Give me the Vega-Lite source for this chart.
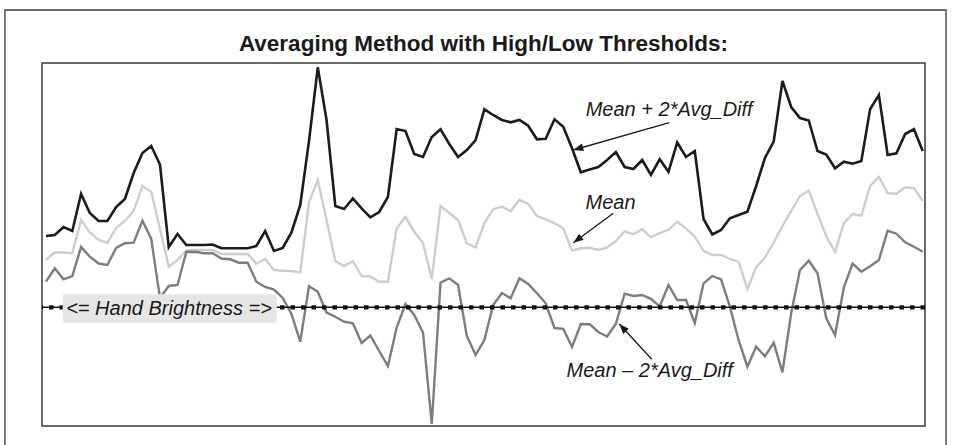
{
  "$schema": "https://vega.github.io/schema/vega-lite/v6.json",
  "width": 883,
  "height": 363,
  "autosize": {"type": "none"},
  "padding": {"left": 42, "top": 63, "right": 29, "bottom": 19},
  "background": "white",
  "config": {"view": {"stroke": "#3a3a3a", "strokeWidth": 1.5}},
  "title": {"text": "Averaging Method with High/Low Thresholds:", "anchor": "middle", "font": "Liberation Sans", "fontSize": 22.5, "fontWeight": "bold", "color": "#1a1a1a", "offset": -64, "baseline": "alphabetic"},
  "datasets": {
    "series": [
      {"i":0,"upper":190,"mean":166,"lower":144.3},
      {"i":1,"upper":191,"mean":173.5,"lower":157.7},
      {"i":2,"upper":199,"mean":173.5,"lower":146.7},
      {"i":3,"upper":195,"mean":172.7,"lower":150},
      {"i":4,"upper":232,"mean":206,"lower":179},
      {"i":5,"upper":213,"mean":193.5,"lower":169.3},
      {"i":6,"upper":205,"mean":186,"lower":162.5},
      {"i":7,"upper":205,"mean":183,"lower":161},
      {"i":8,"upper":219,"mean":198,"lower":178},
      {"i":9,"upper":227,"mean":205,"lower":182.7},
      {"i":10,"upper":253,"mean":215,"lower":183.3},
      {"i":11,"upper":273,"mean":240,"lower":205.3},
      {"i":12,"upper":280,"mean":234.3,"lower":187.3},
      {"i":13,"upper":261.5,"mean":197,"lower":128},
      {"i":14,"upper":179,"mean":159.3,"lower":140},
      {"i":15,"upper":192,"mean":166,"lower":141},
      {"i":16,"upper":181,"mean":175.5,"lower":174},
      {"i":17,"upper":181,"mean":176,"lower":174.3},
      {"i":18,"upper":181,"mean":176,"lower":172.7},
      {"i":19,"upper":181.5,"mean":176,"lower":172.7},
      {"i":20,"upper":177.7,"mean":172,"lower":167.5},
      {"i":21,"upper":177.7,"mean":172,"lower":166.7},
      {"i":22,"upper":177.7,"mean":172,"lower":163.3},
      {"i":23,"upper":177.7,"mean":172,"lower":163.3},
      {"i":24,"upper":180,"mean":162.5,"lower":144.3},
      {"i":25,"upper":195,"mean":167,"lower":139},
      {"i":26,"upper":175,"mean":156,"lower":136.4},
      {"i":27,"upper":178,"mean":155.3,"lower":128},
      {"i":28,"upper":193.5,"mean":155,"lower":112},
      {"i":29,"upper":221,"mean":153.7,"lower":84.3},
      {"i":30,"upper":285,"mean":224,"lower":139.7},
      {"i":31,"upper":358.7,"mean":246,"lower":134.3},
      {"i":32,"upper":306,"mean":206,"lower":113.5},
      {"i":33,"upper":220,"mean":165,"lower":109.3},
      {"i":34,"upper":217,"mean":160,"lower":104.3},
      {"i":35,"upper":227.5,"mean":164.7,"lower":102.7},
      {"i":36,"upper":217.7,"mean":150,"lower":83},
      {"i":37,"upper":208.7,"mean":149.5,"lower":90.5},
      {"i":38,"upper":214,"mean":144.3,"lower":75},
      {"i":39,"upper":229,"mean":144.3,"lower":60},
      {"i":40,"upper":297,"mean":197.7,"lower":98.5},
      {"i":41,"upper":295,"mean":209,"lower":122},
      {"i":42,"upper":272,"mean":194.3,"lower":111},
      {"i":43,"upper":269,"mean":183,"lower":93.5},
      {"i":44,"upper":289,"mean":147,"lower":2},
      {"i":45,"upper":296.7,"mean":220,"lower":143.3},
      {"i":46,"upper":282,"mean":213,"lower":147.7},
      {"i":47,"upper":269,"mean":205.7,"lower":141},
      {"i":48,"upper":276,"mean":182.7,"lower":90},
      {"i":49,"upper":286,"mean":178.7,"lower":71},
      {"i":50,"upper":316.7,"mean":202.7,"lower":86},
      {"i":51,"upper":311,"mean":216.8,"lower":121},
      {"i":52,"upper":306,"mean":219.3,"lower":133},
      {"i":53,"upper":303.7,"mean":214.8,"lower":127.7},
      {"i":54,"upper":306,"mean":226.3,"lower":147.7},
      {"i":55,"upper":300.3,"mean":222,"lower":142},
      {"i":56,"upper":286.7,"mean":210,"lower":132.7},
      {"i":57,"upper":287.3,"mean":206.7,"lower":122.7},
      {"i":58,"upper":306.7,"mean":202.7,"lower":98},
      {"i":59,"upper":299.3,"mean":197.7,"lower":97.2},
      {"i":60,"upper":277.7,"mean":175.5,"lower":79},
      {"i":61,"upper":253.7,"mean":177.7,"lower":102},
      {"i":62,"upper":256.5,"mean":178.2,"lower":101.8},
      {"i":63,"upper":259,"mean":176,"lower":94},
      {"i":64,"upper":266,"mean":178.5,"lower":89.5},
      {"i":65,"upper":274,"mean":185,"lower":102.2},
      {"i":66,"upper":259,"mean":194.7,"lower":132.3},
      {"i":67,"upper":257,"mean":191.8,"lower":130},
      {"i":68,"upper":266,"mean":196.7,"lower":131},
      {"i":69,"upper":251,"mean":188.7,"lower":127.2},
      {"i":70,"upper":266.7,"mean":193,"lower":119.5},
      {"i":71,"upper":254.3,"mean":196.2,"lower":141},
      {"i":72,"upper":283.5,"mean":204.3,"lower":126},
      {"i":73,"upper":269,"mean":197.7,"lower":126},
      {"i":74,"upper":275,"mean":189.3,"lower":103},
      {"i":75,"upper":207,"mean":175.2,"lower":142.7},
      {"i":76,"upper":191.5,"mean":171,"lower":150},
      {"i":77,"upper":196,"mean":171,"lower":146.7},
      {"i":78,"upper":207.7,"mean":167,"lower":119.3},
      {"i":79,"upper":211,"mean":164.3,"lower":86},
      {"i":80,"upper":214.3,"mean":136.7,"lower":59.3},
      {"i":81,"upper":240,"mean":158.5,"lower":79.3},
      {"i":82,"upper":268,"mean":168.5,"lower":69.7},
      {"i":83,"upper":284.3,"mean":183.5,"lower":83.3},
      {"i":84,"upper":345,"mean":200,"lower":53.7},
      {"i":85,"upper":319,"mean":215,"lower":113},
      {"i":86,"upper":308,"mean":230,"lower":156},
      {"i":87,"upper":305.5,"mean":235.5,"lower":165.3},
      {"i":88,"upper":275,"mean":212,"lower":152.7},
      {"i":89,"upper":271.5,"mean":190,"lower":107.7},
      {"i":90,"upper":257.7,"mean":174,"lower":91},
      {"i":91,"upper":264.3,"mean":202.7,"lower":138.5},
      {"i":92,"upper":262.3,"mean":212,"lower":162.3},
      {"i":93,"upper":265,"mean":210.3,"lower":154.3},
      {"i":94,"upper":316.7,"mean":240,"lower":159.7},
      {"i":95,"upper":331,"mean":249,"lower":166},
      {"i":96,"upper":271,"mean":232.7,"lower":195.3},
      {"i":97,"upper":272.7,"mean":232.3,"lower":192.3},
      {"i":98,"upper":292,"mean":238.7,"lower":183.7},
      {"i":99,"upper":296.8,"mean":237.7,"lower":179.3},
      {"i":100,"upper":275,"mean":225.3,"lower":174.3}
    ]
  },
  "layer": [
    {
      "data": {"values": [{}]},
      "mark": {"type": "rect", "filled": false, "stroke": "#3a3a3a", "strokeWidth": 1.3},
      "encoding": {
        "x": {"datum": -4.68, "type": "quantitative", "scale": {"domain": [-0.456, 100.26], "nice": false, "zero": false}, "axis": null},
        "x2": {"datum": 102.66},
        "y": {"datum": 416, "type": "quantitative", "scale": {"domain": [0, 363], "nice": false, "zero": false}, "axis": null},
        "y2": {"datum": -20}
      }
    },
    {
      "data": {"name": "series"},
      "mark": {"type": "line", "color": "#cdcdcd", "strokeWidth": 2.4},
      "encoding": {
        "x": {"field": "i", "type": "quantitative", "scale": {"domain": [-0.456, 100.26], "nice": false, "zero": false}, "axis": null},
        "y": {"field": "mean", "type": "quantitative", "scale": {"domain": [0, 363], "nice": false, "zero": false},
              "axis": {"values": [37.3, 202.3, 281.7], "grid": true, "gridColor": "#4a4a4a", "gridWidth": 1.3, "gridOpacity": 1, "labels": false, "ticks": false, "domain": false, "title": null}}
      }
    },
    {
      "data": {"name": "series"},
      "mark": {"type": "line", "color": "#7d7d7d", "strokeWidth": 2.4},
      "encoding": {
        "x": {"field": "i", "type": "quantitative", "scale": {"domain": [-0.456, 100.26], "nice": false, "zero": false}, "axis": null},
        "y": {"field": "lower", "type": "quantitative", "scale": {"domain": [0, 363], "nice": false, "zero": false}, "axis": null}
      }
    },
    {
      "data": {"name": "series"},
      "mark": {"type": "line", "color": "#1c1c1c", "strokeWidth": 2.6},
      "encoding": {
        "x": {"field": "i", "type": "quantitative", "scale": {"domain": [-0.456, 100.26], "nice": false, "zero": false}, "axis": null},
        "y": {"field": "upper", "type": "quantitative", "scale": {"domain": [0, 363], "nice": false, "zero": false}, "axis": null}
      }
    },
    {
      "data": {"values": [{}]},
      "mark": {"type": "rule", "color": "#111111", "strokeWidth": 1.4},
      "encoding": {"y": {"datum": 118.7, "type": "quantitative", "scale": {"domain": [0, 363], "nice": false, "zero": false}, "axis": null}}
    },
    {
      "data": {"values": [{}]},
      "mark": {"type": "rule", "color": "#111111", "strokeWidth": 4.2, "strokeDash": [4.5, 6]},
      "encoding": {"y": {"datum": 118.7, "type": "quantitative", "scale": {"domain": [0, 363], "nice": false, "zero": false}, "axis": null}}
    },
    {
      "data": {"values": [{}]},
      "mark": {"type": "rect", "color": "#e6e6e6", "opacity": 1},
      "encoding": {
        "x": {"datum": 1.905, "type": "quantitative", "scale": {"domain": [-0.456, 100.26], "nice": false, "zero": false}, "axis": null},
        "x2": {"datum": 26.31},
        "y": {"datum": 131.7, "type": "quantitative", "scale": {"domain": [0, 363], "nice": false, "zero": false}, "axis": null},
        "y2": {"datum": 103.3}
      }
    },
    {
      "data": {"values": [{"label": "<= Hand Brightness =>", "lx": 14.03, "ly": 110.7}]},
      "mark": {"type": "text", "font": "Liberation Sans", "fontStyle": "italic", "fontSize": 20, "color": "#1a1a1a", "align": "center", "baseline": "alphabetic"},
      "encoding": {
        "x": {"field": "lx", "type": "quantitative", "scale": {"domain": [-0.456, 100.26], "nice": false, "zero": false}, "axis": null},
        "y": {"field": "ly", "type": "quantitative", "scale": {"domain": [0, 363], "nice": false, "zero": false}, "axis": null},
        "text": {"field": "label"}
      }
    },
    {
      "data": {"values": [
        {"label": "Mean + 2*Avg_Diff", "lx": 71.08, "ly": 310},
        {"label": "Mean", "lx": 64.4, "ly": 217},
        {"label": "Mean – 2*Avg_Diff", "lx": 68.86, "ly": 49}
      ]},
      "mark": {"type": "text", "font": "Liberation Sans", "fontStyle": "italic", "fontSize": 20, "color": "#1a1a1a", "align": "center", "baseline": "alphabetic"},
      "encoding": {
        "x": {"field": "lx", "type": "quantitative", "scale": {"domain": [-0.456, 100.26], "nice": false, "zero": false}, "axis": null},
        "y": {"field": "ly", "type": "quantitative", "scale": {"domain": [0, 363], "nice": false, "zero": false}, "axis": null},
        "text": {"field": "label"}
      }
    },
    {
      "data": {"values": [
        {"x1": 71.1, "y1": 303.3, "x2": 60.15, "y2": 276},
        {"x1": 64.71, "y1": 212.7, "x2": 60.15, "y2": 183.3},
        {"x1": 69.09, "y1": 66.7, "x2": 65.39, "y2": 102}
      ]},
      "mark": {"type": "rule", "color": "#1a1a1a", "strokeWidth": 1.3},
      "encoding": {
        "x": {"field": "x1", "type": "quantitative", "scale": {"domain": [-0.456, 100.26], "nice": false, "zero": false}, "axis": null},
        "y": {"field": "y1", "type": "quantitative", "scale": {"domain": [0, 363], "nice": false, "zero": false}, "axis": null},
        "x2": {"field": "x2"},
        "y2": {"field": "y2"}
      }
    },
    {
      "data": {"values": [{}]},
      "mark": {"type": "point", "shape": "M0,0L-0.38,1L0.38,1Z", "filled": true, "color": "#1a1a1a", "opacity": 1, "size": 400, "strokeWidth": 0, "angle": 254},
      "encoding": {
        "x": {"datum": 60.15, "type": "quantitative", "scale": {"domain": [-0.456, 100.26], "nice": false, "zero": false}, "axis": null},
        "y": {"datum": 276, "type": "quantitative", "scale": {"domain": [0, 363], "nice": false, "zero": false}, "axis": null}
      }
    },
    {
      "data": {"values": [{}]},
      "mark": {"type": "point", "shape": "M0,0L-0.38,1L0.38,1Z", "filled": true, "color": "#1a1a1a", "opacity": 1, "size": 400, "strokeWidth": 0, "angle": 233.7},
      "encoding": {
        "x": {"datum": 60.15, "type": "quantitative", "scale": {"domain": [-0.456, 100.26], "nice": false, "zero": false}, "axis": null},
        "y": {"datum": 183.3, "type": "quantitative", "scale": {"domain": [0, 363], "nice": false, "zero": false}, "axis": null}
      }
    },
    {
      "data": {"values": [{}]},
      "mark": {"type": "point", "shape": "M0,0L-0.38,1L0.38,1Z", "filled": true, "color": "#1a1a1a", "opacity": 1, "size": 400, "strokeWidth": 0, "angle": 317.5},
      "encoding": {
        "x": {"datum": 65.39, "type": "quantitative", "scale": {"domain": [-0.456, 100.26], "nice": false, "zero": false}, "axis": null},
        "y": {"datum": 102, "type": "quantitative", "scale": {"domain": [0, 363], "nice": false, "zero": false}, "axis": null}
      }
    }
  ]
}
